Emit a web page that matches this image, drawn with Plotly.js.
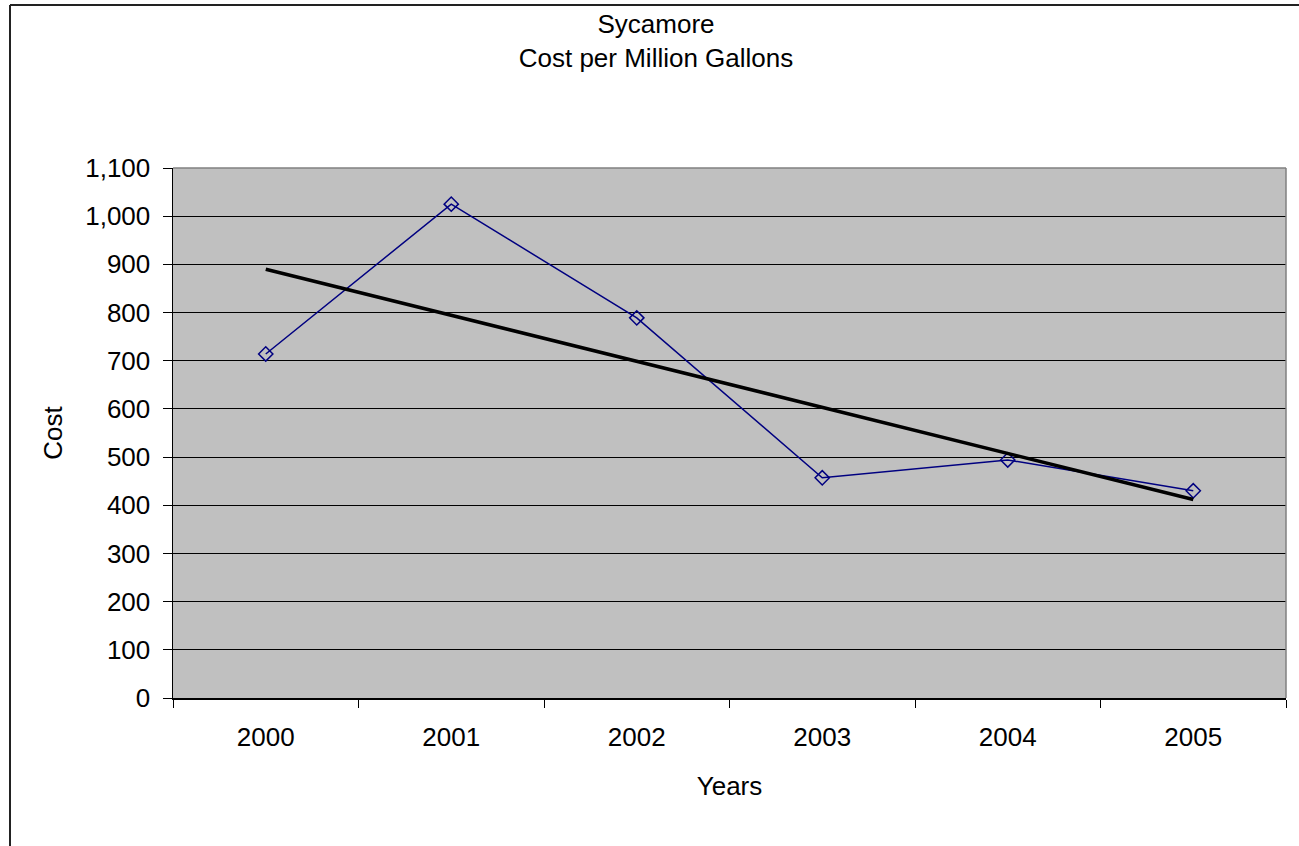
<!DOCTYPE html>
<html>
<head>
<meta charset="utf-8">
<script src="https://cdn.plot.ly/plotly-3.0.1.min.js"></script>
<style>
  html, body { margin: 0; padding: 0; background: #fff; }
  #chart { width: 1299px; height: 846px; }
</style>
</head>
<body>
<div id="chart"></div>
<script>
// ---- data ----
const years = ["2000", "2001", "2002", "2003", "2004", "2005"];
const cost = [714, 1025, 789, 457, 494, 430];
const trendYears = ["2000", "2005"];
const trendCost = [890, 412];
const yTickVals = [0, 100, 200, 300, 400, 500, 600, 700, 800, 900, 1000, 1100];

const FONT = "Liberation Sans, Arial, sans-serif";
const W = 1299, H = 846;
const M = { l: 173, r: 13, t: 168, b: 148 };
const pw = W - M.l - M.r, ph = H - M.t - M.b;
const px = (x) => (x - M.l) / pw;      // pixel -> paper x
const py = (y) => (H - M.b - y) / ph;  // pixel -> paper y

const traces = [
  {
    x: years, y: cost, type: "scatter", mode: "lines+markers",
    line: { color: "#000080", width: 1.5 },
    marker: { symbol: "diamond-open", size: 11, color: "#000080", line: { color: "#000080", width: 1.5 } },
    hoverinfo: "x+y", showlegend: false
  },
  {
    x: trendYears, y: trendCost, type: "scatter", mode: "lines",
    line: { color: "#000000", width: 3.5 },
    hoverinfo: "skip", showlegend: false
  }
];

const layout = {
  width: W, height: H,
  margin: M,
  paper_bgcolor: "#ffffff",
  plot_bgcolor: "#c0c0c0",
  font: { family: FONT, size: 26, color: "#000" },
  showlegend: false,
  title: {
    text: "Sycamore<br>Cost per Million Gallons",
    font: { family: FONT, size: 26, color: "#000" },
    xref: "container", x: 656 / W, xanchor: "center",
    yref: "container", y: 1 - 33 / H, yanchor: "top"
  },
  xaxis: {
    type: "category",
    categoryorder: "array", categoryarray: years,
    range: [-0.5, 5.5],
    tickson: "boundaries",
    ticks: "outside", ticklen: 8, tickwidth: 1, tickcolor: "#000",
    showline: true, linecolor: "#000", linewidth: 1.5,
    showgrid: false, zeroline: false,
    ticklabelstandoff: 15,
    tickfont: { family: FONT, size: 26, color: "#000" },
    title: { text: "Years", font: { family: FONT, size: 26, color: "#000" }, standoff: 26 },
    fixedrange: true
  },
  yaxis: {
    range: [0, 1100],
    tickvals: yTickVals,
    tickformat: ",d",
    ticks: "outside", ticklen: 9, tickwidth: 1, tickcolor: "#000",
    showline: true, linecolor: "#000", linewidth: 1.5,
    showgrid: true, gridcolor: "#000", gridwidth: 1,
    zeroline: false,
    ticklabelstandoff: 7,
    tickfont: { family: FONT, size: 26, color: "#000" },
    title: { text: "Cost", font: { family: FONT, size: 26, color: "#000" }, standoff: 15 },
    fixedrange: true
  },
  shapes: [
    // plot area top/right border (grey)
    { type: "line", xref: "paper", yref: "paper", x0: 0, x1: 1, y0: 1, y1: 1, line: { color: "#808080", width: 1.5 } },
    { type: "line", xref: "paper", yref: "paper", x0: 1, x1: 1, y0: 0, y1: 1, line: { color: "#808080", width: 1.5 } },
    // chart area border (top and left visible)
    { type: "line", xref: "paper", yref: "paper", x0: px(10), x1: px(1310), y0: py(5), y1: py(5), line: { color: "#222", width: 2 } },
    { type: "line", xref: "paper", yref: "paper", x0: px(10), x1: px(10), y0: py(5), y1: py(860), line: { color: "#222", width: 2 } }
  ]
};

Plotly.newPlot("chart", traces, layout, { displayModeBar: false, staticPlot: true });
</script>
</body>
</html>
